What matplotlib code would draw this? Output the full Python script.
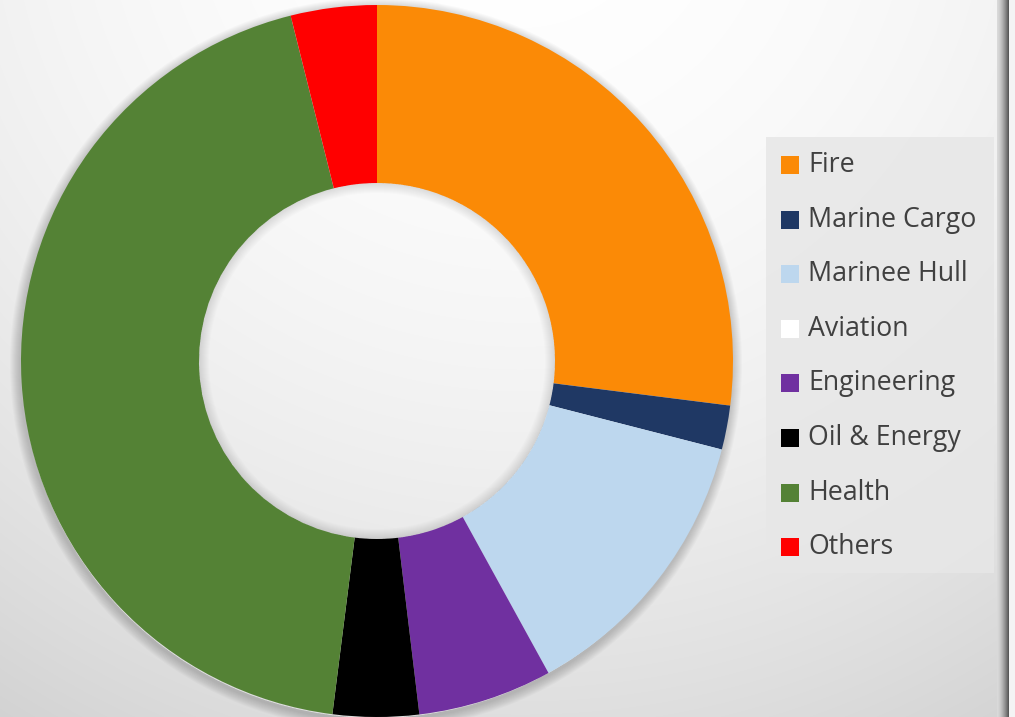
import numpy as np
import matplotlib
matplotlib.use("Agg")
import matplotlib.pyplot as plt
from matplotlib.patches import Rectangle, Wedge

categories = ["Fire", "Marine Cargo", "Marinee Hull", "Aviation", "Engineering",
              "Oil & Energy", "Health", "Others"]
values = [27.0, 2.0, 13.0, 0.0, 6.1, 3.9, 44.1, 3.9]
colors = ["#FB8A06", "#1F3864", "#BDD7EE", "#FFFFFF", "#7030A0",
          "#000000", "#548235", "#FF0000"]

W, H = 1015, 717
fig = plt.figure(figsize=(W / 100, H / 100), dpi=100)

# background radial gradient: separate axes, image rows run top -> bottom
axbg = fig.add_axes([0, 0, 1, 1])
ydn, xx = np.mgrid[0:H, 0:W]
d = np.hypot(xx - 520, ydn + 120)
g = np.clip(255 - 4.6e-5 * d ** 2, 210, 255) / 255.0
axbg.imshow(np.dstack([g, g, g]), origin="upper", aspect="auto",
            interpolation="bilinear")
axbg.axis("off")

ax = fig.add_axes([0, 0, 1, 1])
ax.patch.set_alpha(0)

cx, cy = 377, H - 361
R, w = 356, 178

# soft outer shadow (annuli outside the ring)
for i in range(10):
    ax.add_patch(Wedge((cx - 1, cy - 3), R + 10 - i, 0, 360, width=12 - i,
                       color="black", alpha=0.02, lw=0, zorder=1))

ax.pie(values, colors=colors, startangle=90, counterclock=False, radius=R,
       center=(cx, cy), wedgeprops=dict(width=w, linewidth=0), frame=True)

# inner shadow in the hole
ri = R - w
for i in range(10):
    ax.add_patch(Wedge((cx, cy), ri, 0, 360, width=1 + i, color="black",
                       alpha=0.012, lw=0, zorder=3))

ax.set_xlim(0, W)
ax.set_ylim(0, H)
ax.set_aspect("auto")
ax.axis("off")

# legend box
ax.add_patch(Rectangle((766, H - 573), 228, 436, facecolor="#E7E7E7", alpha=0.85,
                       edgecolor="none", zorder=4))
y0, dy = 165, 54.6
for i, (lab, col) in enumerate(zip(categories, colors)):
    yc = H - (y0 + i * dy)
    ax.add_patch(Rectangle((781, yc - 9), 18, 18, facecolor=col, edgecolor="none",
                           zorder=5))
    ax.text(808, yc, lab, fontsize=19.3, family="Open Sans", color="#404040",
            va="center", ha="left", zorder=5)

# right edge border
for i in range(12):
    x = 997 + i
    shade = 0.85 - 0.5 * (i / 11) ** 1.5
    ax.add_patch(Rectangle((x, 0), 1, H, facecolor=(shade, shade, shade),
                           edgecolor="none", zorder=6))
ax.add_patch(Rectangle((1009, 0), 6, H, facecolor="#F4F4F4", edgecolor="none",
                       zorder=6))

fig.savefig("out.png", dpi=100)
